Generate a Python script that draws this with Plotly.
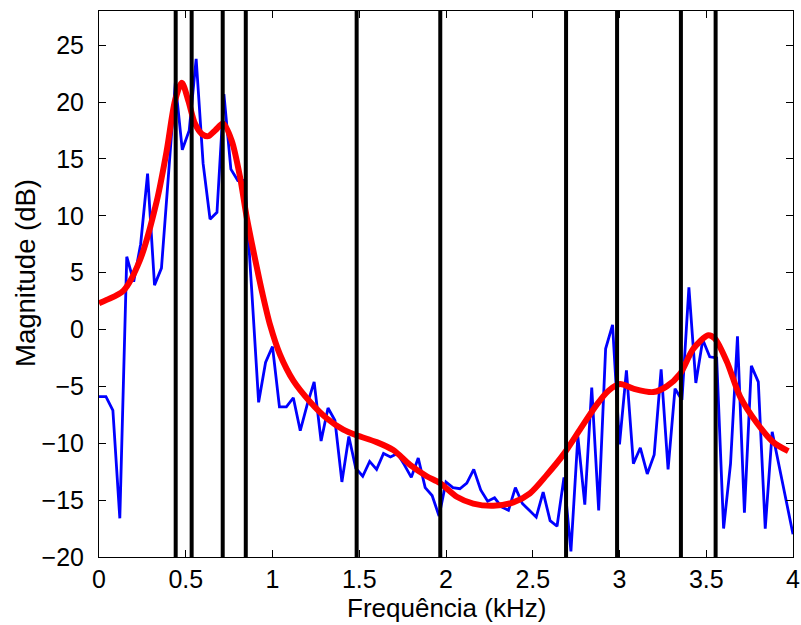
import plotly.graph_objects as go

# Blue: measured spectrum magnitude (dB), bins every 0.04 kHz from 0 to 4 kHz
bin_step_khz = 0.04
spectrum_db = [
    -5.9, -5.9, -7.1, -16.6, 6.4, 4.2, 7.5, 13.7, 3.9, 5.4,
    13.5, 21.7, 15.8, 17.5, 23.8, 14.6, 9.7, 10.3, 20.7, 14.1,
    13.1, 13.1, 3.5, -6.4, -2.9, -1.5, -6.8, -6.8, -6.0, -8.9,
    -6.6, -4.6, -9.8, -6.9, -8.0, -13.4, -9.4, -12.2, -12.9, -11.6,
    -12.3, -10.9, -11.2, -10.9, -11.9, -13.0, -11.3, -13.9, -14.6, -16.4,
    -13.4, -13.9, -14.0, -13.5, -12.3, -14.1, -15.1, -14.8, -15.6, -15.9,
    -13.9, -15.3, -15.9, -16.5, -14.3, -16.8, -17.3, -13.0, -19.5, -9.4,
    -15.4, -5.1, -15.9, -1.7, 0.4, -10.1, -3.6, -11.8, -10.4, -12.7,
    -11.0, -3.5, -12.3, -5.2, -6.2, 3.7, -4.7, -0.9, -2.4, -2.5,
    -17.5, -11.8, -0.6, -16.1, -3.2, -4.6, -17.5, -9.0, -12.0, -15.0,
    -18.0,
]
spectrum_khz = [round(i * bin_step_khz, 4) for i in range(len(spectrum_db))]

# Red: smooth spectral envelope
envelope_khz = [0.0, 0.044, 0.14, 0.236, 0.333, 0.39, 0.438, 0.477, 0.515, 0.553,
                0.592, 0.63, 0.669, 0.716, 0.765, 0.813, 0.851, 0.909, 0.94, 0.986,
                1.043, 1.12, 1.216, 1.312, 1.408, 1.485, 1.6, 1.696, 1.793, 1.889,
                1.965, 2.062, 2.157, 2.273, 2.388, 2.484, 2.58, 2.676, 2.772, 2.869,
                2.935, 3.003, 3.08, 3.195, 3.272, 3.349, 3.425, 3.512, 3.55, 3.618,
                3.695, 3.791, 3.886, 3.973]
envelope_db = [2.3, 2.6, 3.4, 6.1, 11.3, 15.7, 20.1, 21.7, 20.1, 18.1,
               17.2, 17.0, 17.5, 18.1, 16.6, 13.4, 9.9, 5.5, 3.3, 0.4,
               -2.2, -4.5, -6.35, -7.8, -8.8, -9.3, -9.9, -10.6, -11.9, -12.9,
               -13.5, -14.7, -15.3, -15.5, -15.2, -14.4, -12.8, -11.0, -8.8, -6.6,
               -5.4, -4.8, -5.2, -5.5, -5.0, -3.9, -1.7, -0.5, -0.8, -2.8,
               -5.9, -8.2, -9.9, -10.7]

# Black vertical markers (kHz)
marker_khz = [0.442, 0.534, 0.713, 0.846, 1.485, 1.967, 2.692, 2.986, 3.354, 3.554]

x_ticks = [0, 0.5, 1, 1.5, 2, 2.5, 3, 3.5, 4]
x_tick_labels = ["0", "0.5", "1", "1.5", "2", "2.5", "3", "3.5", "4"]
y_ticks = [-20, -15, -10, -5, 0, 5, 10, 15, 20, 25]
y_range = [-20, 28]
x_title = "Frequência (kHz)"
y_title = "Magnitude (dB)"

fig = go.Figure()
fig.add_trace(go.Scatter(x=spectrum_khz, y=spectrum_db, mode="lines",
                         line=dict(color="#0000FF", width=2.8), showlegend=False,
                         hoverinfo="skip"))
fig.add_trace(go.Scatter(x=envelope_khz, y=envelope_db, mode="lines",
                         line=dict(color="#FF0000", width=6, shape="spline", smoothing=0.8),
                         showlegend=False, hoverinfo="skip"))
vx, vy = [], []
for f in marker_khz:
    vx += [f, f, None]
    vy += [y_range[0], y_range[1], None]
fig.add_trace(go.Scatter(x=vx, y=vy, mode="lines",
                         line=dict(color="#000000", width=4), showlegend=False,
                         hoverinfo="skip"))

font_family = "Liberation Sans, Arial, sans-serif"
FS = 25
axis_common = dict(showline=True, linecolor="black", linewidth=1, mirror="ticks",
                   ticks="inside", ticklen=7, tickwidth=1, tickcolor="black",
                   showgrid=False, zeroline=False, automargin=False,
                   tickfont=dict(family=font_family, size=FS, color="black"))

fig.update_layout(
    width=801, height=625,
    margin=dict(l=99, r=8, t=11, b=68),
    paper_bgcolor="white", plot_bgcolor="white",
    font=dict(family=font_family, size=FS, color="black"),
    xaxis=dict(range=[0, 4], tickvals=x_ticks, ticktext=x_tick_labels,
               ticklabelstandoff=0, **axis_common),
    yaxis=dict(range=y_range, tickvals=y_ticks,
               ticklabelstandoff=9, **axis_common),
    annotations=[
        dict(text=x_title, xref="paper", yref="paper", x=0.5, y=0,
             xanchor="center", yanchor="middle", yshift=-51, showarrow=False,
             font=dict(family=font_family, size=26, color="black")),
        dict(text=y_title, xref="paper", yref="paper", x=0, y=0.5,
             xanchor="center", yanchor="middle", xshift=-74, yshift=11,
             textangle=-90, showarrow=False,
             font=dict(family=font_family, size=27.5, color="black")),
    ],
)

fig.write_html("out.html")
